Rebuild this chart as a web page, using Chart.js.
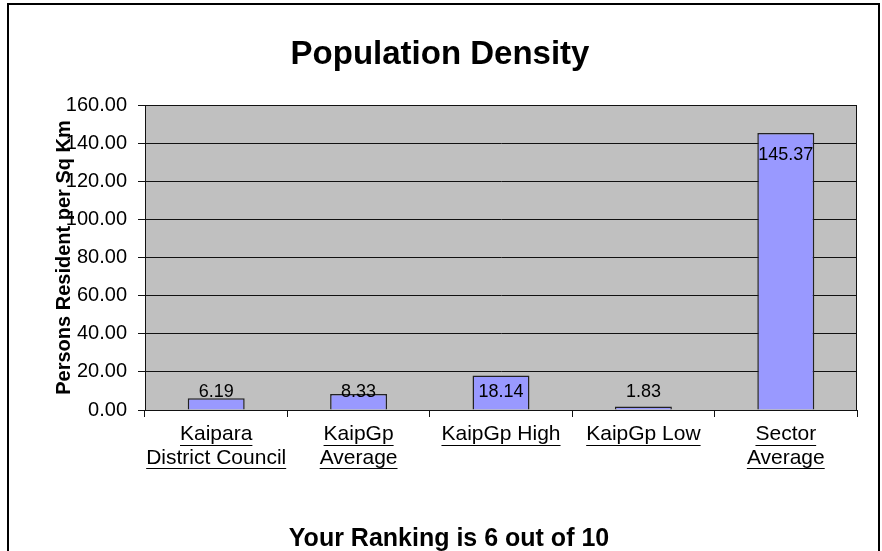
<!DOCTYPE html>
<html>
<head>
<meta charset="utf-8">
<script src="https://cdn.jsdelivr.net/npm/chart.js@4/dist/chart.umd.min.js"></script>
<style>
  html, body { margin: 0; padding: 0; background: #ffffff; }
  #wrap { width: 882px; height: 551px; position: relative; }
</style>
</head>
<body>
<div id="wrap"><canvas id="c" width="882" height="551"></canvas></div>
<script>
const categories = [
  ['Kaipara', 'District Council'],
  ['KaipGp', 'Average'],
  ['KaipGp High'],
  ['KaipGp Low'],
  ['Sector', 'Average']
];
const densityValues = [6.19, 8.33, 18.14, 1.83, 145.37];
const yTickStep = 20;
const yMax = 160;
const chartTitle = 'Population Density';
const footerText = 'Your Ranking is 6 out of 10';
const yAxisTitle = 'Persons Resident per Sq Km';

const FONT = '"Liberation Sans", Arial, sans-serif';
const LINE = '#111111';
const XSIZE = 21;

const framePlugin = {
  id: 'frame',
  beforeDraw(chart) {
    const ctx = chart.ctx;
    const a = chart.chartArea;
    ctx.save();
    ctx.fillStyle = '#ffffff';
    ctx.fillRect(0, 0, chart.width, chart.height);
    ctx.strokeStyle = '#000';
    ctx.lineWidth = 2;
    ctx.strokeRect(8, 4, 871, 600);
    ctx.fillStyle = '#C0C0C0';
    ctx.fillRect(a.left, a.top, a.right - a.left, a.bottom - a.top);
    ctx.restore();
  },
  afterDraw(chart) {
    const ctx = chart.ctx;
    const a = chart.chartArea;
    ctx.save();
    ctx.strokeStyle = LINE;
    ctx.lineWidth = 1;
    ctx.strokeRect(a.left + 0.5, a.top + 0.5, a.right - a.left - 1, a.bottom - a.top);
    // titles
    ctx.fillStyle = '#000';
    ctx.textAlign = 'center';
    ctx.textBaseline = 'alphabetic';
    ctx.font = 'bold 33px ' + FONT;
    ctx.fillText(chartTitle, 440, 64);
    ctx.font = 'bold 25px ' + FONT;
    ctx.fillText(footerText, 449, 546);
    // underline category labels
    const xs = chart.scales.x;
    const size = XSIZE, lh = 23.4;
    ctx.font = size + 'px ' + FONT;
    ctx.lineWidth = 1;
    ctx.strokeStyle = '#000';
    categories.forEach((lines, i) => {
      const x = xs.getPixelForTick(i);
      lines.forEach((t, j) => {
        const mid = xs.top + 7 + 6 + lh * (j + 0.5);
        const y = Math.round(mid + size * 0.35 + 2.5) + 0.5;
        const w = ctx.measureText(t).width;
        ctx.beginPath();
        ctx.moveTo(x - w / 2, y);
        ctx.lineTo(x + w / 2, y);
        ctx.stroke();
      });
    });
    ctx.restore();
  },
  afterDatasetsDraw(chart) {
    const ctx = chart.ctx;
    const meta = chart.getDatasetMeta(0);
    const ys = chart.scales.y;
    ctx.save();
    ctx.font = '18px ' + FONT;
    ctx.fillStyle = '#000';
    ctx.textAlign = 'center';
    ctx.textBaseline = 'middle';
    meta.data.forEach((bar, i) => {
      const y = Math.min(ys.getPixelForValue(9.5), bar.y + 22);
      ctx.fillText(densityValues[i].toFixed(2), bar.x, y);
    });
    ctx.restore();
  }
};

new Chart(document.getElementById('c'), {
  type: 'bar',
  data: {
    labels: categories,
    datasets: [{
      data: densityValues,
      backgroundColor: '#9999FF',
      borderColor: '#222222',
      borderWidth: 1.5,
      categoryPercentage: 1,
      barPercentage: 0.4
    }]
  },
  options: {
    responsive: false,
    animation: false,
    devicePixelRatio: 1,
    layout: { padding: { top: 105, right: 25, left: 0, bottom: 0 } },
    plugins: { legend: { display: false }, tooltip: { enabled: false }, title: { display: false } },
    scales: {
      x: {
        grid: { offset: true, drawOnChartArea: false, color: LINE, tickLength: 7, lineWidth: 1 },
        border: { color: LINE, width: 1 },
        ticks: { color: '#000', font: { family: FONT, size: XSIZE, lineHeight: 23.4 / XSIZE }, padding: 6, maxRotation: 0, autoSkip: false },
        afterFit(s) { s.height = 141; }
      },
      y: {
        min: 0, max: yMax,
        grid: { color: LINE, tickLength: 7, lineWidth: 1 },
        border: { color: LINE, width: 1 },
        ticks: {
          stepSize: yTickStep, color: '#000', padding: 11,
          font: { family: FONT, size: 20 },
          callback: v => Number(v).toFixed(2)
        },
        title: {
          display: true, text: yAxisTitle, color: '#000',
          font: { family: FONT, size: 20, weight: 'bold', lineHeight: 1.2 },
          padding: { top: 52, bottom: 0 }
        },
        afterFit(s) { s.width = 145; }
      }
    }
  },
  plugins: [framePlugin]
});
</script>
</body>
</html>
